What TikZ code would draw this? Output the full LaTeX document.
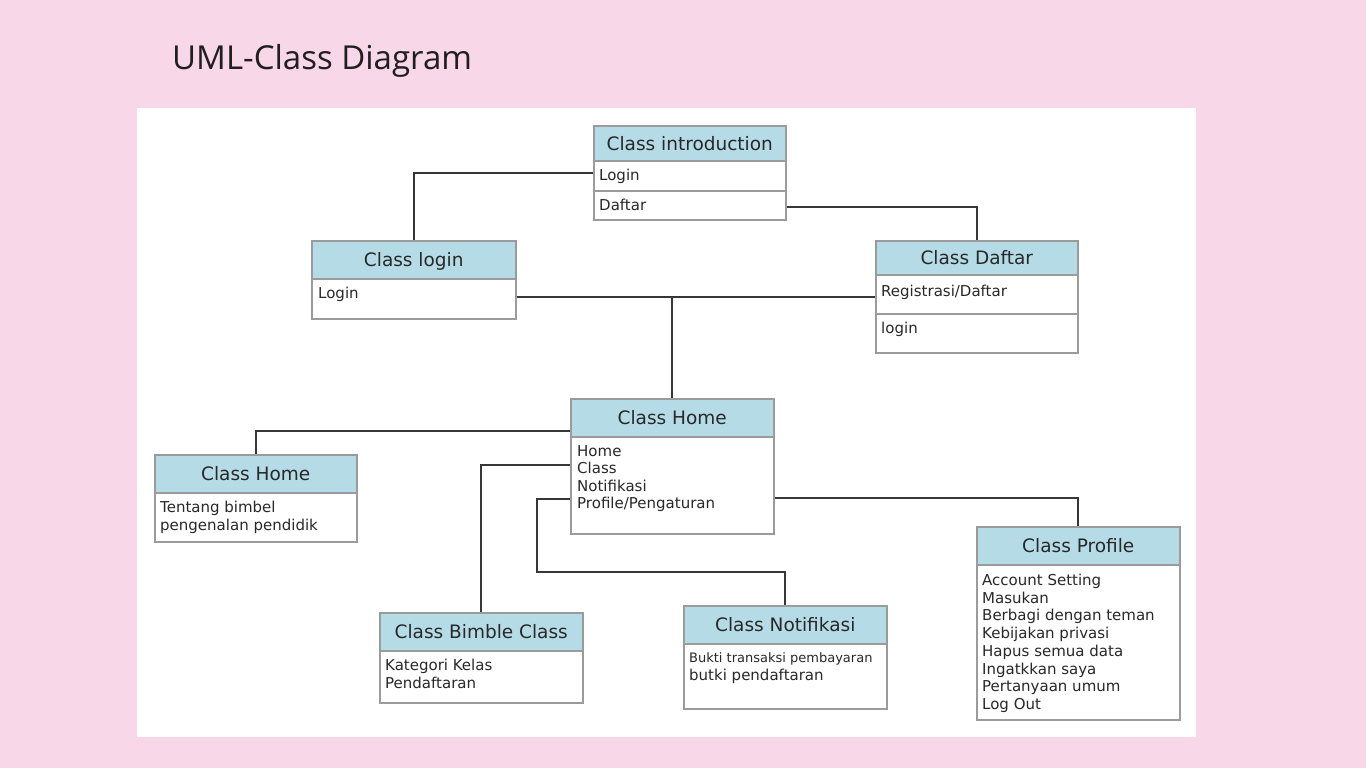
\documentclass[tikz,border=0pt]{standalone}
\usepackage{fontspec}
\setmainfont{DejaVu Sans}
\newfontfamily\titlefont{Open Sans}
\usetikzlibrary{calc}
\definecolor{bgpink}{RGB}{248,215,232}
\definecolor{hdrblue}{RGB}{181,220,230}
\definecolor{boxgray}{RGB}{155,155,155}
\definecolor{linegray}{RGB}{55,55,55}
\definecolor{txt}{RGB}{40,40,40}
\begin{document}
\begin{tikzpicture}[x=1pt,y=-1pt,
  hdr/.style={draw=boxgray, line width=1.5pt, fill=hdrblue, anchor=north west, inner sep=0pt,
    text height=13.5pt, text depth=0pt, font=\fontsize{18.5}{22}\selectfont, text=txt},
  bodybox/.style={draw=boxgray, line width=1.5pt, fill=white, anchor=north west, inner sep=0pt},
  item/.style={anchor=base west, inner sep=0pt, font=\fontsize{15}{17.5}\selectfont, text=txt},
  conn/.style={draw=linegray, line width=2pt}]
\useasboundingbox (0,0) rectangle (1366,768);
\fill[bgpink] (0,0) rectangle (1366,768);
\fill[white] (137,108) rectangle (1196,737);
\node[anchor=base west, inner sep=0pt, font=\titlefont\fontsize{33}{36}\selectfont, text=black!88] (title) at (172,70) {UML-Class Diagram};

% Class introduction
\node[hdr, minimum width=192pt, minimum height=35pt] (introH) at (593,125) {Class introduction};
\node[bodybox, minimum width=192pt, minimum height=30pt] (introR1) at (593,160) {};
\node[bodybox, minimum width=192pt, minimum height=29pt] (introR2) at (593,190) {};
\node[item] (introT1) at ($(introR1.north west)+(6,20.5)$) {Login};
\node[item] (introT2) at ($(introR2.north west)+(6,20.5)$) {Daftar};

% Class login
\node[hdr, minimum width=204pt, minimum height=38pt] (loginH) at (311,240) {Class login};
\node[bodybox, minimum width=204pt, minimum height=40pt] (loginB) at (311,278) {};
\node[item] (loginT1) at ($(loginB.north west)+(7,20.5)$) {Login};

% Class Daftar
\node[hdr, minimum width=202pt, minimum height=34pt] (dafH) at (875,240) {Class Daftar};
\node[bodybox, minimum width=202pt, minimum height=39pt] (dafR1) at (875,274) {};
\node[bodybox, minimum width=202pt, minimum height=39pt] (dafR2) at (875,313) {};
\node[item] (dafT1) at ($(dafR1.north west)+(6,22.5)$) {Registrasi/Daftar};
\node[item] (dafT2) at ($(dafR2.north west)+(6,20.5)$) {login};

% Class Home (centre)
\node[hdr, minimum width=203pt, minimum height=38pt] (homeH) at (570,398) {Class Home};
\node[bodybox, minimum width=203pt, minimum height=97pt] (homeB) at (570,436) {};
\foreach \t [count=\i] in {Home,Class,Notifikasi,Profile/Pengaturan}
  \node[item] (homeT\i) at ($(homeB.north west)+(7,3.1+17.4*\i)$) {\t};

% Class Home (left)
\node[hdr, minimum width=202pt, minimum height=38pt] (lhomeH) at (154,454) {Class Home};
\node[bodybox, minimum width=202pt, minimum height=49pt] (lhomeB) at (154,492) {};
\node[item] (lhomeT1) at ($(lhomeB.north west)+(6,20.5)$) {Tentang bimbel};
\node[item] (lhomeT2) at ($(lhomeB.north west)+(6,38.5)$) {pengenalan pendidik};

% Class Bimble Class
\node[hdr, minimum width=203pt, minimum height=38pt] (bimH) at (379,612) {Class Bimble Class};
\node[bodybox, minimum width=203pt, minimum height=52pt] (bimB) at (379,650) {};
\node[item] (bimT1) at ($(bimB.north west)+(6,20.5)$) {Kategori Kelas};
\node[item] (bimT2) at ($(bimB.north west)+(6,38.5)$) {Pendaftaran};

% Class Notifikasi
\node[hdr, minimum width=203pt, minimum height=38pt] (notifH) at (683,605) {Class Notifikasi};
\node[bodybox, minimum width=203pt, minimum height=65pt] (notifB) at (683,643) {};
\node[item, font=\fontsize{13}{15}\selectfont] (notifT1) at ($(notifB.north west)+(6,19)$) {Bukti transaksi pembayaran};
\node[item] (notifT2) at ($(notifB.north west)+(6,37.5)$) {butki pendaftaran};

% Class Profile
\node[hdr, minimum width=203pt, minimum height=38pt] (profH) at (976,526) {Class Profile};
\node[bodybox, minimum width=203pt, minimum height=155pt] (profB) at (976,564) {};
\foreach \t [count=\i] in {Account Setting,Masukan,Berbagi dengan teman,Kebijakan privasi,Hapus semua data,Ingatkkan saya,Pertanyaan umum,Log Out}
  \node[item] (profT\i) at ($(profB.north west)+(6,3.8+17.7*\i)$) {\t};

% connectors
\coordinate (j1) at ([yshift=2pt]homeH.north |- loginB.east);
\coordinate (ya) at (0,431);
\coordinate (yb) at (0,465);
\coordinate (yc) at (0,499);
\coordinate (yd) at (0,498);
\coordinate (k1) at (537,572);
\draw[conn] ([yshift=3pt]introR1.west) -| (loginH.north);
\draw[conn] ([yshift=-1.5pt]introR2.east) -| (dafH.north);
\draw[conn] (loginB.east |- j1) -- (dafR1.west |- j1);
\draw[conn] (j1) -- (homeH.north);
\draw[conn] (homeH.west |- ya) -| (lhomeH.north);
\draw[conn] (homeB.west |- yb) -| (bimH.north);
\draw[conn] (homeB.west |- yc) -| (k1) -| (notifH.north);
\draw[conn] (homeB.east |- yd) -| (profH.north);
\end{tikzpicture}
\end{document}
